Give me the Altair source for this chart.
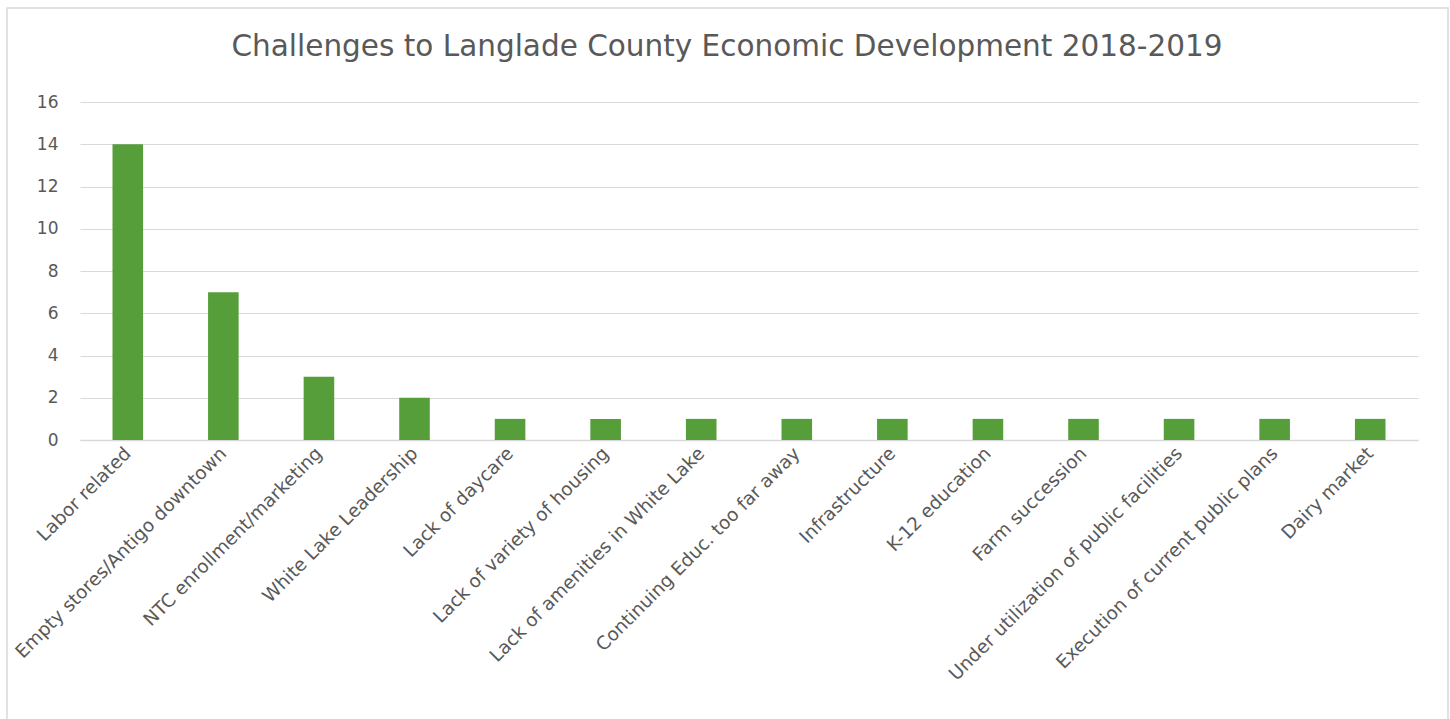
import altair as alt
import pandas as pd

categories = [
    "Labor related",
    "Empty stores/Antigo downtown",
    "NTC enrollment/marketing",
    "White Lake Leadership",
    "Lack of daycare",
    "Lack of variety of housing",
    "Lack of amenities in White Lake",
    "Continuing Educ. too far away",
    "Infrastructure",
    "K-12 education",
    "Farm succession",
    "Under utilization of public facilities",
    "Execution of current public plans",
    "Dairy market",
]
counts = [14, 7, 3, 2, 1, 1, 1, 1, 1, 1, 1, 1, 1, 1]
y_ticks = [0, 2, 4, 6, 8, 10, 12, 14, 16]

df = pd.DataFrame({"category": categories, "count": counts})

FONT = "DejaVu Sans"
TEXT = "#595959"
W, H = 1338, 338

bars = alt.Chart(df).mark_bar(color="#559E3A").encode(
    x=alt.X(
        "category:N",
        sort=categories,
        title=None,
        scale=alt.Scale(paddingInner=0.68, paddingOuter=0.34),
        axis=alt.Axis(
            labelAngle=-45,
            labelAlign="right",
            labelBaseline="middle",
            labelFontSize=18.5,
            labelFont=FONT,
            labelColor=TEXT,
            labelPadding=10,
            ticks=False,
            grid=False,
            domainColor="#d9d9d9",
            domainWidth=1.5,
            labelLimit=400,
        ),
    ),
    y=alt.Y(
        "count:Q",
        title=None,
        scale=alt.Scale(domain=[0, 16], nice=False),
        axis=alt.Axis(
            values=y_ticks,
            labelFontSize=17,
            labelFont=FONT,
            labelColor=TEXT,
            labelPadding=22,
            ticks=False,
            domain=False,
            gridColor="#d9d9d9",
            gridWidth=1.2,
        ),
    ),
)

border = alt.Chart(pd.DataFrame({"a": [0]})).mark_rect(
    fill=None, stroke="#d9d9d9", strokeWidth=1.5
).encode(
    x=alt.value(-73), x2=alt.value(1368), y=alt.value(-94), y2=alt.value(640)
)

chart = (
    alt.layer(border, bars)
    .properties(
        width=W,
        height=H,
        view=alt.ViewBackground(strokeWidth=0, stroke="transparent"),
        title=alt.TitleParams(
            "Challenges to Langlade County Economic Development 2018-2019",
            font=FONT,
            fontSize=29.5,
            fontWeight="normal",
            color=TEXT,
            anchor="middle",
            dx=-22,
            offset=-55,
        ),
        autosize=alt.AutoSizeParams(type="none"),
        padding={"left": 80, "top": 102, "right": 32, "bottom": 279},
    )
    .configure_view(strokeWidth=0, stroke="transparent")
    .configure(background="white")
)

chart.save("out.html", embed_options={"renderer": "svg", "actions": False})
